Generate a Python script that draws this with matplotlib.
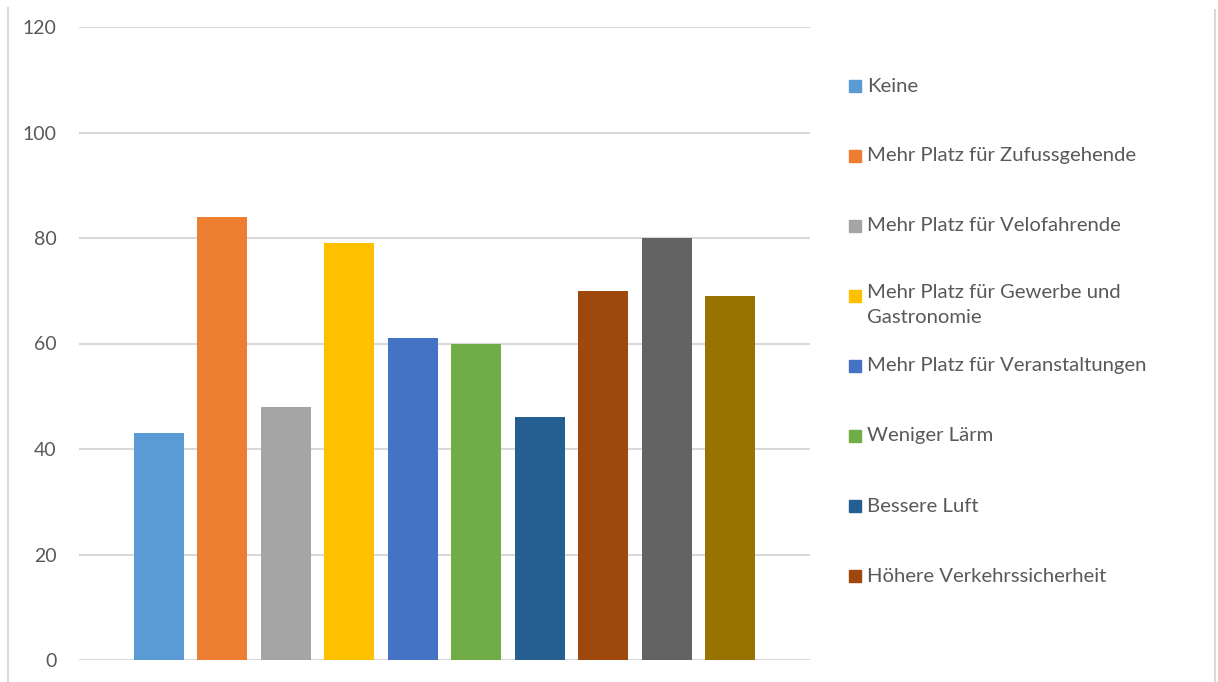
import numpy as np
import matplotlib.pyplot as plt
from matplotlib.patches import Rectangle
from matplotlib.lines import Line2D

# data
labels = ['Keine',
          'Mehr Platz für Zufussgehende',
          'Mehr Platz für Velofahrende',
          'Mehr Platz für Gewerbe und\nGastronomie',
          'Mehr Platz für Veranstaltungen',
          'Weniger Lärm',
          'Bessere Luft',
          'Höhere Verkehrssicherheit']
values = [43, 84, 48, 79, 61, 60, 46, 70, 80, 69]
colors = ['#5B9BD5', '#ED7D31', '#A5A5A5', '#FFC000', '#4472C4',
          '#70AD47', '#255E91', '#9E480E', '#636363', '#997300']
yticks = [0, 20, 40, 60, 80, 100, 120]

plt.rcParams['font.family'] = ['Lato', 'DejaVu Sans']
txt = '#595959'
grid = '#D9D9D9'

W, H = 1218, 682
fig = plt.figure(figsize=(W / 100, H / 100), dpi=100)
ax = fig.add_axes([79 / W, (H - 660) / H, (810 - 79) / W, (660 - 27) / H])

x = np.arange(len(values))
ax.bar(x, values, width=50 / 63.5, color=colors, zorder=2)
ax.set_xlim(4.5 - 365.5 / 63.5, 4.5 + 365.5 / 63.5)
ax.set_ylim(0, 120)
ax.set_yticks(yticks)
ax.set_yticklabels([str(t) for t in yticks], fontsize=14, color=txt)
ax.set_xticks([])
ax.tick_params(axis='y', length=0, pad=16)
for s in ax.spines.values():
    s.set_visible(False)
ax.grid(axis='y', color=grid, linewidth=1.5, zorder=0)

# legend drawn by hand (the last entries are cut off in the original)
for i, (lab, c) in enumerate(zip(labels, colors)):
    yp = 86 + 70 * i
    fig.patches.append(Rectangle((849 / W, 1 - (yp + 6) / H), 12 / W, 12 / H,
                                 transform=fig.transFigure, color=c))
    if '\n' in lab:
        fig.text(867 / W, 1 - (yp - 12) / H, lab, fontsize=14.6, color=txt,
                 va='top', ha='left', linespacing=1.6)
    else:
        fig.text(867 / W, 1 - yp / H, lab, fontsize=14.6, color=txt,
                 va='center', ha='left')

# chart border pieces
fig.lines.append(Line2D([8 / W, 8 / W], [0, 1 - 8 / H], color=grid,
                        linewidth=1.5, transform=fig.transFigure))
fig.lines.append(Line2D([1215 / W, 1215 / W], [0, 1 - 10 / H], color=grid,
                        linewidth=1.5, transform=fig.transFigure))

fig.savefig('out.png', dpi=100)
